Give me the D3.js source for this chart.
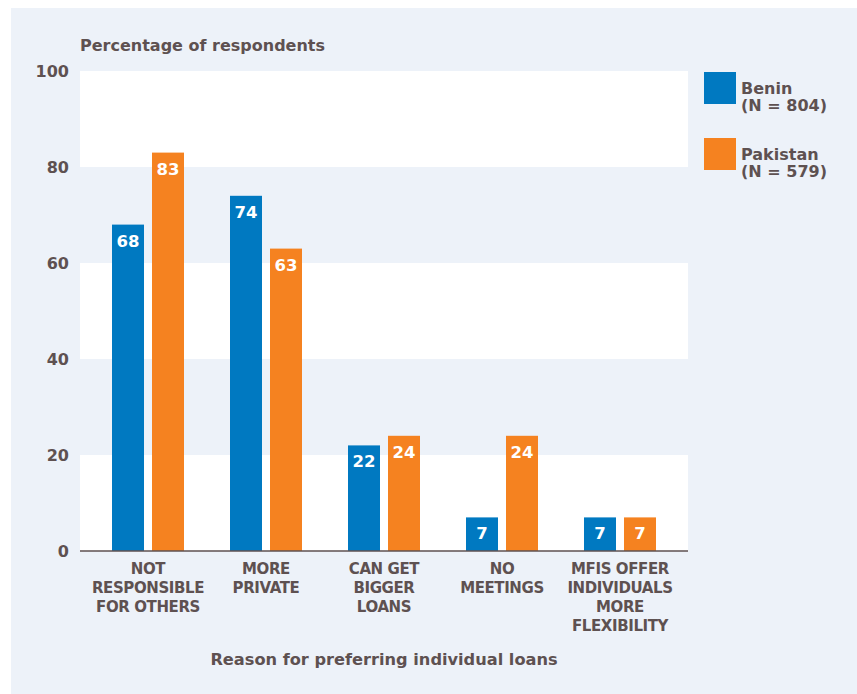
<!DOCTYPE html>
<html>
<head>
<meta charset="utf-8">
<script src="https://cdn.jsdelivr.net/npm/d3@7/dist/d3.min.js"></script>
<style>
  html, body { margin: 0; padding: 0; background: #ffffff; }
  svg { display: block; }
  text { font-family: "DejaVu Sans", sans-serif; font-weight: bold; fill: #5e5151; }
</style>
</head>
<body>
<svg id="chart" width="857" height="694"></svg>
<script>
// Survey results: share of respondents citing each reason
const categories = [
  ["NOT", "RESPONSIBLE", "FOR OTHERS"],
  ["MORE", "PRIVATE"],
  ["CAN GET", "BIGGER", "LOANS"],
  ["NO", "MEETINGS"],
  ["MFIS OFFER", "INDIVIDUALS", "MORE", "FLEXIBILITY"]
];
const seriesNames = ["Benin", "Pakistan"];
const seriesSizes = ["(N = 804)", "(N = 579)"];
const beninValues = [68, 74, 22, 7, 7];
const pakistanValues = [83, 63, 24, 24, 7];
const yTicks = [0, 20, 40, 60, 80, 100];

const colors = ["#0079c1", "#f58220"];
const panelColor = "#edf2f9";
const textColor = "#5e5151";

const svg = d3.select("#chart");

// background panel
svg.append("rect")
  .attr("x", 11).attr("y", 8)
  .attr("width", 846).attr("height", 686)
  .attr("fill", panelColor);

const plot = { left: 80, right: 688, top: 71, bottom: 551 };

const y = d3.scaleLinear().domain([0, 100]).range([plot.bottom, plot.top]);

const x = d3.scaleBand()
  .domain(d3.range(categories.length))
  .range([plot.left, plot.right])
  .paddingInner(0)
  .paddingOuter(0.0763);

const xInner = d3.scaleBand()
  .domain(d3.range(seriesNames.length))
  .range([0, x.bandwidth()])
  .paddingInner(0.2)
  .paddingOuter(0.575);

// alternating horizontal bands between the gridline values
const bandPairs = d3.pairs(yTicks);
svg.append("g").selectAll("rect")
  .data(bandPairs)
  .join("rect")
  .attr("x", plot.left)
  .attr("width", plot.right - plot.left)
  .attr("y", d => y(d[1]))
  .attr("height", d => y(d[0]) - y(d[1]))
  .attr("fill", (d, i) => i % 2 === 0 ? "#ffffff" : panelColor);

// y axis labels
const yAxis = d3.axisLeft(y).tickValues(yTicks).tickSize(0).tickPadding(11);
const yg = svg.append("g")
  .attr("transform", `translate(${plot.left},0)`)
  .call(yAxis);
yg.select(".domain").remove();
yg.selectAll("text")
  .attr("font-size", 16)
  .attr("font-family", "DejaVu Sans, sans-serif")
  .attr("font-weight", "bold")
  .attr("fill", textColor);

// bars
const series = [beninValues, pakistanValues];
const groups = svg.append("g").selectAll("g")
  .data(categories.map((c, i) => i))
  .join("g")
  .attr("transform", i => `translate(${x(i)},0)`);

groups.selectAll("rect")
  .data(i => series.map((vals, s) => ({ s, v: vals[i] })))
  .join("rect")
  .attr("x", d => xInner(d.s))
  .attr("width", xInner.bandwidth())
  .attr("y", d => y(d.v))
  .attr("height", d => y(0) - y(d.v))
  .attr("fill", d => colors[d.s]);

groups.selectAll("text.val")
  .data(i => series.map((vals, s) => ({ s, v: vals[i] })))
  .join("text")
  .attr("class", "val")
  .attr("x", d => xInner(d.s) + xInner.bandwidth() / 2)
  .attr("y", d => y(d.v) + 22)
  .attr("text-anchor", "middle")
  .attr("font-size", 16.5)
  .style("fill", "#ffffff")
  .text(d => d.v);

// baseline
svg.append("line")
  .attr("x1", plot.left).attr("x2", plot.right)
  .attr("y1", y(0)).attr("y2", y(0))
  .attr("stroke", textColor)
  .attr("stroke-width", 1.5);

// category labels
groups.append("text")
  .attr("text-anchor", "middle")
  .attr("font-size", 15)
  .attr("letter-spacing", -0.4)
  .selectAll("tspan")
  .data(i => categories[i])
  .join("tspan")
  .attr("x", x.bandwidth() / 2)
  .attr("y", (d, j) => 573.5 + j * 19)
  .text(d => d);

// axis titles
svg.append("text")
  .attr("x", plot.left).attr("y", 51)
  .attr("font-size", 16)
  .text("Percentage of respondents");

svg.append("text")
  .attr("x", 384).attr("y", 665)
  .attr("text-anchor", "middle")
  .attr("font-size", 16.2)
  .text("Reason for preferring individual loans");

// legend
const legend = svg.append("g").selectAll("g")
  .data(seriesNames.map((n, i) => i))
  .join("g")
  .attr("transform", i => `translate(704,${72 + i * 66})`);

legend.append("rect")
  .attr("width", 32).attr("height", 32)
  .attr("fill", i => colors[i]);

legend.append("text")
  .attr("font-size", 16)
  .selectAll("tspan")
  .data(i => [seriesNames[i], seriesSizes[i]])
  .join("tspan")
  .attr("x", 37)
  .attr("y", (d, j) => 21.5 + j * 17.5)
  .text(d => d);
</script>
</body>
</html>
